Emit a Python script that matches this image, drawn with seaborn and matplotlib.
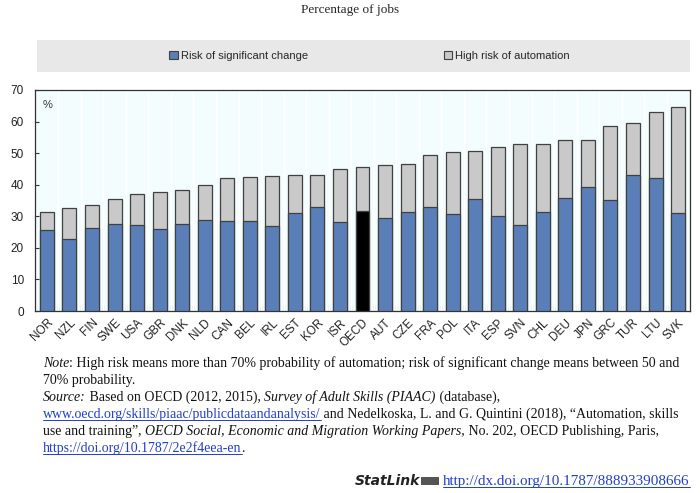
import matplotlib
matplotlib.use("Agg")
import matplotlib.pyplot as plt
import matplotlib.patches as mpatches
import matplotlib.lines as mlines
import seaborn as sns
import pandas as pd
import numpy as np

countries = ["NOR", "NZL", "FIN", "SWE", "USA", "GBR", "DNK", "NLD", "CAN", "BEL",
             "IRL", "EST", "KOR", "ISR", "OECD", "AUT", "CZE", "FRA", "POL", "ITA",
             "ESP", "SVN", "CHL", "DEU", "JPN", "GRC", "TUR", "LTU", "SVK"]
significant_change = [25.7, 22.8, 26.4, 27.5, 27.1, 26.0, 27.6, 28.7, 28.6, 28.6,
                      26.8, 30.9, 32.8, 28.1, 31.6, 29.6, 31.2, 32.8, 30.6, 35.4,
                      30.2, 27.2, 31.4, 35.8, 39.3, 35.3, 43.1, 42.0, 30.9]
total_risk = [31.5, 32.7, 33.6, 35.4, 37.2, 37.6, 38.2, 40.0, 42.1, 42.5,
              42.8, 43.0, 43.2, 45.0, 45.6, 46.3, 46.7, 49.3, 50.4, 50.8,
              52.0, 53.0, 53.0, 54.1, 54.3, 58.7, 59.6, 63.0, 64.5]
yticks = [0, 10, 20, 30, 40, 50, 60, 70]
series_labels = ["Risk of significant change", "High risk of automation"]

BLUE = "#5A7FB8"
GREY = "#C9C9C9"
EDGE = "#404040"

sns.set_theme(style="white")
plt.rcParams["font.family"] = ["Liberation Sans", "DejaVu Sans"]

df = pd.DataFrame({"country": countries, "blue": significant_change, "total": total_risk})

fig = plt.figure(figsize=(7.0, 4.93), dpi=100)
ax = fig.add_axes([35 / 700, (493 - 311) / 493, 655 / 700, 221 / 493])
ax.set_facecolor("#F3FDFE")

sns.barplot(data=df, x="country", y="total", color=GREY, edgecolor=EDGE,
            linewidth=0.9, width=0.62, saturation=1, ax=ax, zorder=3)
pal = {c: ("#000000" if c == "OECD" else BLUE) for c in countries}
sns.barplot(data=df, x="country", y="blue", hue="country", palette=pal, legend=False,
            edgecolor=EDGE, linewidth=0.9, width=0.62, saturation=1, ax=ax, zorder=4)

n = len(countries)
ax.set_xlim(-0.53, n - 0.47)
ax.set_ylim(0, 70)
ax.set_yticks(yticks)
ax.set_yticklabels([str(v) for v in yticks], fontsize=8.5, color="#222222")
ax.set_xlabel("")
ax.set_ylabel("")
ax.set_xticks(range(n))
ax.set_xticklabels(countries, rotation=45, ha="right", rotation_mode="anchor",
                   fontsize=8.5, color="#222222")
ax.set_xticks(np.arange(n - 1) + 0.5, minor=True)
ax.tick_params(axis="x", which="major", length=0, pad=4)
ax.tick_params(axis="x", which="minor", direction="in", length=4, width=0.8, color="#333333", bottom=True)
ax.tick_params(axis="y", which="major", direction="in", length=3, width=0.8, color="#333333", left=True, pad=8)
for x in np.arange(n - 1) + 0.5:
    ax.axvline(x, color="white", lw=1.0, zorder=1)
for s in ax.spines.values():
    s.set_color("#333333")
    s.set_linewidth(0.9)
ax.text(0.012, 0.955, "%", transform=ax.transAxes, fontsize=8, color="#333333", va="top")

# title
fig.text(0.5, 1 - 10 / 493, "Percentage of jobs", ha="center", va="center",
         fontsize=9.5, family=["Liberation Serif", "DejaVu Serif"])

# legend band
fig.patches.append(mpatches.Rectangle((37 / 700, (493 - 72) / 493), 653 / 700, 32 / 493,
                                      transform=fig.transFigure, facecolor="#E8E8E8",
                                      edgecolor="none", zorder=0))
handles = [mpatches.Patch(facecolor=BLUE, edgecolor=EDGE, linewidth=0.8),
           mpatches.Patch(facecolor=GREY, edgecolor=EDGE, linewidth=0.8)]
fig.legend(handles, series_labels, loc="center", bbox_to_anchor=(0.528, 1 - 56 / 493),
           ncol=2, frameon=False, fontsize=8, handlelength=0.75, handleheight=0.75,
           handletextpad=0.3, columnspacing=12.2)

# notes
fig.canvas.draw()
renderer = fig.canvas.get_renderer()
SERIF = ["Liberation Serif", "DejaVu Serif"]
LINKC = "#1F3FCC"


def draw_line(y_px, segments, x_px=43, fs=10.0):
    x = x_px / 700
    y = 1 - y_px / 493
    for txt, style, link in segments:
        t = fig.text(x, y, txt, fontsize=fs, family=SERIF, style=style,
                     color=(LINKC if link else "#111111"), va="baseline", ha="left")
        bb = t.get_window_extent(renderer=renderer)
        w = bb.width / fig.bbox.width
        if link:
            fig.add_artist(mlines.Line2D([x, x + w], [y - 2 / 493, y - 2 / 493],
                                         transform=fig.transFigure, color=LINKC, lw=0.7))
        x += w


draw_line(367, [("Note", "italic", False),
                (": High risk means more than 70% probability of automation; risk of significant change means between 50 and", "normal", False)])
draw_line(384, [("70% probability.", "normal", False)])
draw_line(401, [("Source:", "italic", False), (" Based on OECD (2012, 2015), ", "normal", False),
                ("Survey of Adult Skills (PIAAC)", "italic", False), (" (database),", "normal", False)])
draw_line(418, [("www.oecd.org/skills/piaac/publicdataandanalysis/", "normal", True),
                (" and Nedelkoska, L. and G. Quintini (2018), \u201cAutomation, skills", "normal", False)])
draw_line(435, [("use and training\u201d, ", "normal", False),
                ("OECD Social, Economic and Migration Working Papers,", "italic", False),
                (" No. 202, OECD Publishing, Paris,", "normal", False)])
draw_line(452, [("https://doi.org/10.1787/2e2f4eea-en", "normal", True), (".", "normal", False)])

# statlink
fig.text(355 / 700, 1 - 485 / 493, "StatLink", fontsize=10, style="italic", weight="bold",
         family=["DejaVu Sans"], va="baseline", ha="left", color="#222222")
fig.patches.append(mpatches.Rectangle((421 / 700, 1 - 485 / 493), 18 / 700, 8 / 493,
                                      transform=fig.transFigure, facecolor="#555555",
                                      edgecolor="none"))
draw_line(485, [("http://dx.doi.org/10.1787/888933908666", "normal", True)], x_px=443, fs=10.9)

fig.savefig("out.png", dpi=100)
